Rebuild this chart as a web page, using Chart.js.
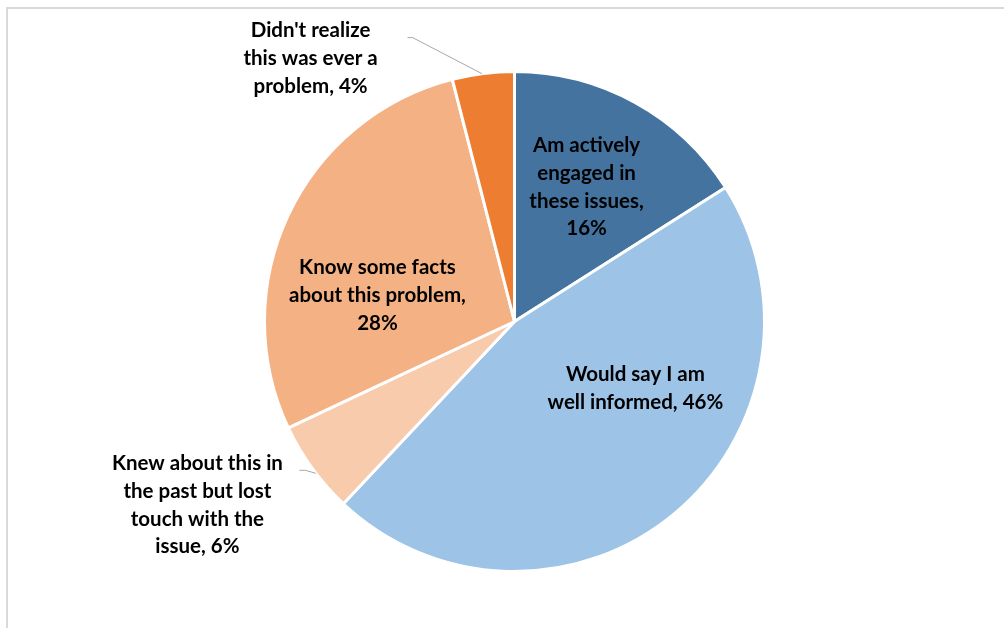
<!DOCTYPE html>
<html>
<head>
  <title>Awareness pie</title>
  <script src="https://cdn.jsdelivr.net/npm/chart.js"></script>
  <style>
    body { margin: 0; background: #fff; overflow: hidden; }
    .frame {
      position: absolute; left: 6px; top: 7px; width: 996px; height: 700px;
      border-top: 2px solid #d9d9d9; border-left: 2px solid #d9d9d9;
    }
    #wrap { position: absolute; left: 0; top: 0; width: 1008px; height: 628px; }
  </style>
</head>
<body>
  <div class="frame"></div>
  <div id="wrap"><canvas id="pieChart"></canvas></div>

  <script>
    // data
    const labels = [
      ["Am actively", "engaged in", "these issues,"],
      ["Would say I am", "well informed,"],
      ["Knew about this in", "the past but lost", "touch with the", "issue,"],
      ["Know some facts", "about this problem,"],
      ["Didn't realize", "this was ever a", "problem,"]
    ];
    const values = [16, 46, 6, 28, 4];
    const colors = ["#44739f", "#9dc3e6", "#f8cbad", "#f4b183", "#ed7d31"];
    // whether the percentage goes on the last text line or on its own line
    const pctInline = [false, true, true, false, true];

    // label placement: angle (deg clockwise from top) and distance as fraction of radius
    const labelPos = [
      { angle: 28.2, r: 0.61 },
      { angle: 119, r: 0.553 },
      { angle: 239.9, r: 1.466 },
      { angle: 280.8, r: 0.558 },
      { angle: 322.2, r: 1.331 }
    ];
    // leader lines: start/elbow offset from label centre, end on the rim at an angle
    const leaders = [
      null, null,
      { start: [102, -35], elbow: [108, -35], endAngle: 232.6 },
      null,
      { start: [97, -21], elbow: [102, -21], endAngle: 352.5 }
    ];

    const FONT = "bold 20.5px Lato";
    const LINE_H = 27.7;

    function labelLines(i) {
      const l = labels[i].slice();
      const pct = values[i] + "%";
      if (pctInline[i]) l[l.length - 1] += " " + pct;
      else l.push(pct);
      return l;
    }

    const labelPlugin = {
      id: "sliceLabels",
      afterDatasetsDraw(chart) {
        const ctx = chart.ctx;
        const arcs = chart.getDatasetMeta(0).data;
        ctx.save();
        arcs.forEach((arc, i) => {
          const R = arc.outerRadius;
          const cx = arc.x, cy = arc.y;
          const p = labelPos[i];
          const a = p.angle * Math.PI / 180;
          const lx = cx + Math.sin(a) * R * p.r;
          const ly = cy - Math.cos(a) * R * p.r;

          const ld = leaders[i];
          if (ld) {
            const ea = ld.endAngle * Math.PI / 180;
            ctx.strokeStyle = "#a6a6a6";
            ctx.lineWidth = 1;
            ctx.beginPath();
            ctx.moveTo(lx + ld.start[0], ly + ld.start[1]);
            ctx.lineTo(lx + ld.elbow[0], ly + ld.elbow[1]);
            ctx.lineTo(cx + Math.sin(ea) * R, cy - Math.cos(ea) * R);
            ctx.stroke();
          }

          const lines = labelLines(i);
          ctx.font = FONT;
          ctx.fillStyle = "#000";
          ctx.textAlign = "center";
          ctx.textBaseline = "middle";
          const top = ly - (lines.length - 1) * LINE_H / 2;
          lines.forEach((t, k) => ctx.fillText(t, lx, top + k * LINE_H));
        });
        ctx.restore();
      }
    };

    new Chart(document.getElementById("pieChart"), {
      type: "pie",
      data: {
        labels: labels.map(l => l.join(" ")),
        datasets: [{
          data: values,
          backgroundColor: colors,
          borderColor: "#ffffff",
          borderWidth: 3
        }]
      },
      options: {
        responsive: true,
        maintainAspectRatio: false,
        animation: false,
        layout: { padding: { left: 263, right: 242, top: 70, bottom: 55 } },
        plugins: {
          legend: { display: false },
          tooltip: { enabled: false }
        }
      },
      plugins: [labelPlugin]
    });
  </script>
</body>
</html>
